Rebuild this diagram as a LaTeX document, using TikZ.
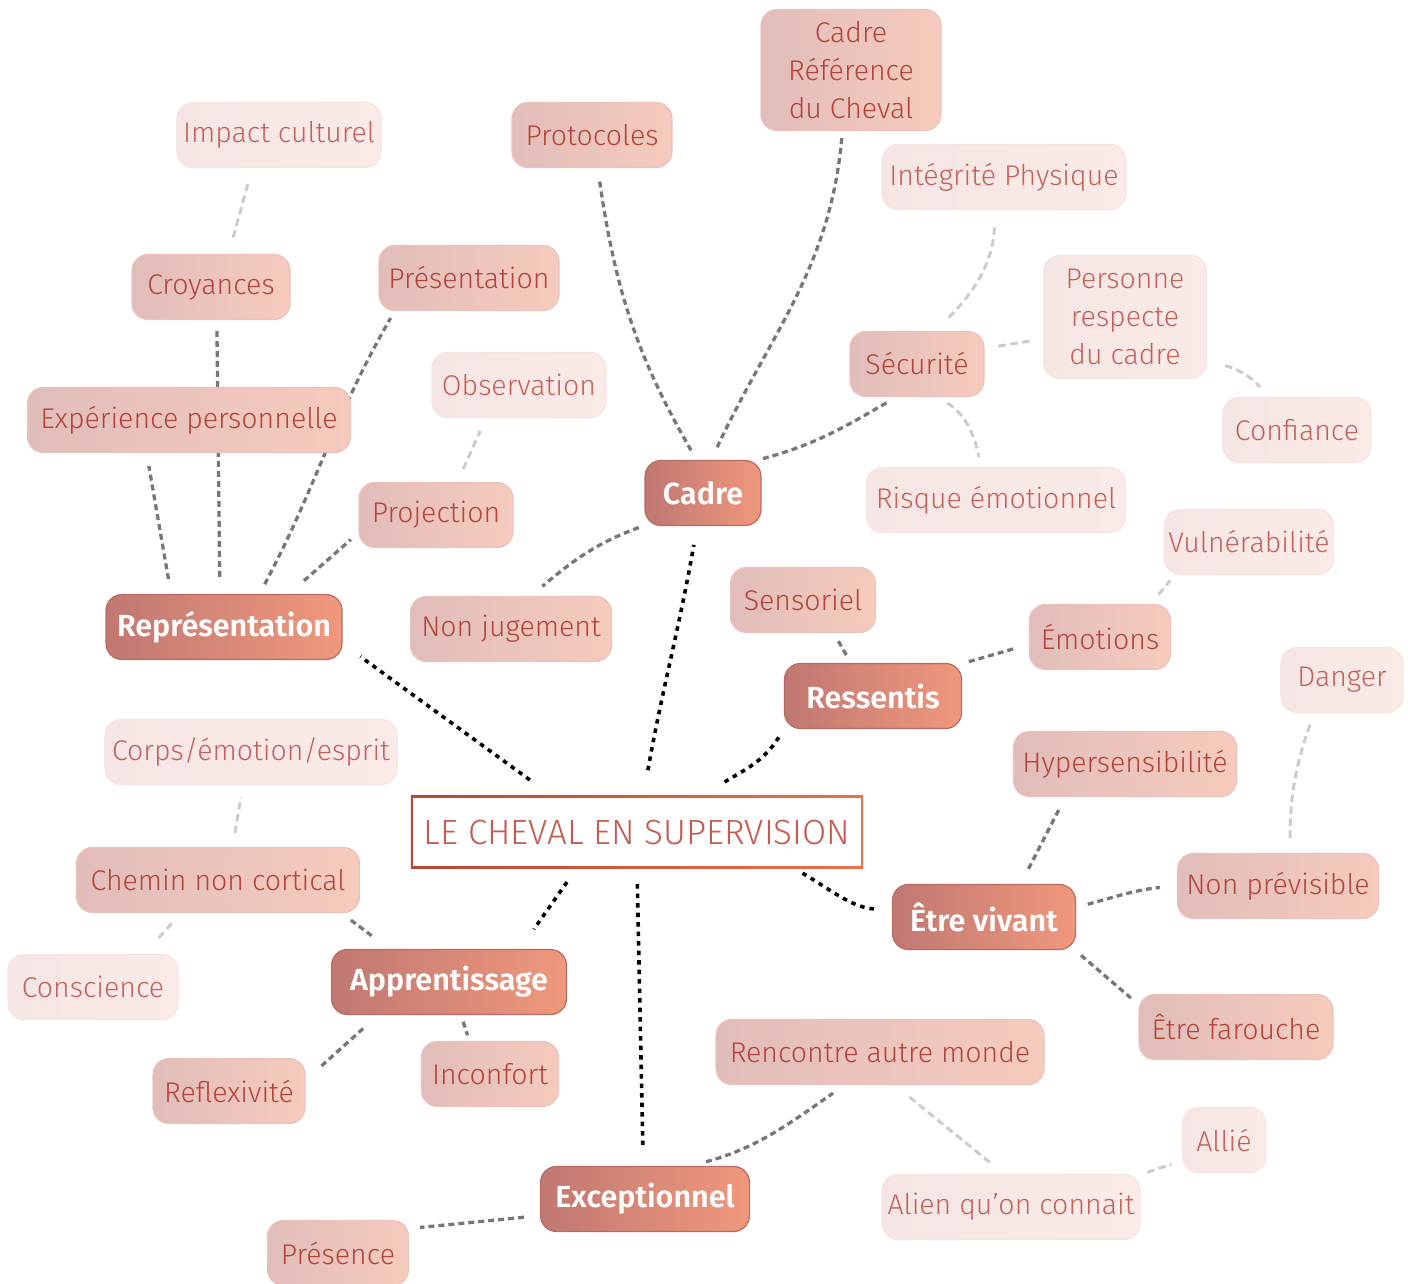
\documentclass[tikz,border=0pt]{standalone}
\usepackage{fontspec}
\setmainfont{Fira Sans}[UprightFont={* Light}, BoldFont={* SemiBold}]
\usetikzlibrary{backgrounds,calc}
\definecolor{oneL}{HTML}{C07872}
\definecolor{oneR}{HTML}{F0987C}
\definecolor{oneD}{HTML}{B86A64}
\definecolor{twoL}{HTML}{E1BDBA}
\definecolor{twoR}{HTML}{F6CBBD}
\definecolor{twoD}{HTML}{EBC3BC}
\definecolor{twoT}{HTML}{B5443A}
\definecolor{thrL}{HTML}{F5E6E5}
\definecolor{thrR}{HTML}{FAEBE8}
\definecolor{thrD}{HTML}{F5E4E2}
\definecolor{thrT}{HTML}{C3625A}
\definecolor{ctrL}{HTML}{B8453A}
\definecolor{ctrR}{HTML}{EF7048}
\definecolor{ctrT}{HTML}{C55A4F}
\definecolor{gryC}{HTML}{777777}
\definecolor{lgtC}{HTML}{CCCCCC}
\begin{document}
\begin{tikzpicture}[x=1pt,y=1pt,
  lvlone/.style={rounded corners=16pt, left color=oneL, right color=oneR, draw=oneD, line width=1.2pt, text=white, font=\fontsize{30.5}{34}\selectfont\bfseries, minimum height=65pt, inner sep=0pt},
  lvltwo/.style={rounded corners=16pt, left color=twoL, right color=twoR, draw=twoD, line width=1.2pt, text=twoT, font=\fontsize{28.5}{38}\selectfont, minimum height=65pt, inner sep=0pt, align=center},
  lvlthr/.style={rounded corners=16pt, left color=thrL, right color=thrR, draw=thrD, line width=1.2pt, text=thrT, font=\fontsize{28.5}{38}\selectfont, minimum height=65pt, inner sep=0pt, align=center},
  blk/.style={draw=black, line width=3.6pt, dash pattern=on 4.5pt off 5pt},
  gry/.style={draw=gryC, line width=3.3pt, dash pattern=on 6pt off 4pt},
  lgt/.style={draw=lgtC, line width=3pt, dash pattern=on 7.5pt off 4.5pt}]
\useasboundingbox (0,0) rectangle (1408,-1283);
% center
\node[font=\fontsize{35}{40}\selectfont, text=ctrT, minimum width=452pt, minimum height=72pt, inner sep=0pt] (ctr) at (637,-832) {LE CHEVAL EN SUPERVISION};
% level 1
\node[lvlone, minimum width=116pt] (cadre) at (703,-493) {Cadre};
\node[lvlone, minimum width=236pt] (repr) at (224,-627) {Représentation};
\node[lvlone, minimum width=177pt] (ress) at (873,-696) {Ressentis};
\node[lvlone, minimum width=183pt] (etre) at (984,-917) {Être vivant};
\node[lvlone, minimum width=235pt] (appr) at (449,-982) {Apprentissage};
\node[lvlone, minimum width=209pt] (exc) at (645,-1199) {Exceptionnel};
% level 2
\node[lvltwo, minimum width=160pt] (prot) at (592,-135) {Protocoles};
\node[lvltwo, minimum width=180pt, minimum height=121pt] (cref) at (851,-70) {Cadre\\Référence\\du Cheval};
\node[lvltwo, minimum width=134pt] (secu) at (917,-364) {Sécurité};
\node[lvltwo, minimum width=201pt] (nonj) at (511,-629) {Non jugement};
\node[lvltwo, minimum width=158pt] (croy) at (211,-287) {Croyances};
\node[lvltwo, minimum width=180pt] (pres) at (469,-278) {Présentation};
\node[lvltwo, minimum width=323pt] (expe) at (189,-420) {Expérience personnelle};
\node[lvltwo, minimum width=154pt] (proj) at (436,-515) {Projection};
\node[lvltwo, minimum width=145pt] (sens) at (803,-600) {Sensoriel};
\node[lvltwo, minimum width=141pt] (emo) at (1100,-637) {Émotions};
\node[lvltwo, minimum width=223pt] (hyper) at (1125,-764) {Hypersensibilité};
\node[lvltwo, minimum width=201pt] (nprev) at (1278,-886) {Non prévisible};
\node[lvltwo, minimum width=194pt] (far) at (1236,-1027) {Être farouche};
\node[lvltwo, minimum width=283pt] (chem) at (218,-880) {Chemin non cortical};
\node[lvltwo, minimum width=152pt] (refl) at (229,-1091) {Reflexivité};
\node[lvltwo, minimum width=137pt] (inco) at (490,-1074) {Inconfort};
\node[lvltwo, minimum width=328pt] (renc) at (880,-1052) {Rencontre autre monde};
\node[lvltwo, minimum width=141pt] (prsc) at (338,-1253) {Présence};
% level 3
\node[lvlthr, minimum width=204pt] (imp) at (279,-135) {Impact culturel};
\node[lvlthr, minimum width=174pt] (obs) at (519,-385) {Observation};
\node[lvlthr, minimum width=244pt] (integ) at (1004,-177) {Intégrité Physique};
\node[lvlthr, minimum width=163pt, minimum height=123pt] (pers) at (1125,-317) {Personne\\respecte\\du cadre};
\node[lvlthr, minimum width=148pt] (conf) at (1297,-430) {Confiance};
\node[lvlthr, minimum width=259pt] (risq) at (996,-500) {Risque émotionnel};
\node[lvlthr, minimum width=169pt] (vuln) at (1249,-542) {Vulnérabilité};
\node[lvlthr, minimum width=122pt] (dang) at (1342,-680) {Danger};
\node[lvlthr, minimum width=292pt] (corps) at (251,-752) {Corps/émotion/esprit};
\node[lvlthr, minimum width=170pt] (consc) at (93,-987) {Conscience};
\node[lvlthr, minimum width=83pt] (allie) at (1224,-1140) {Allié};
\node[lvlthr, minimum width=258pt] (alien) at (1011,-1207) {Alien qu’on connait};
\begin{scope}[on background layer]
\shade[left color=ctrL, right color=ctrR] (ctr.south west) rectangle (ctr.north east);
\fill[white] ($(ctr.south west)+(1.8,1.8)$) rectangle ($(ctr.north east)+(-1.8,-1.8)$);
% center connectors
\draw[blk, shorten <=26pt, shorten >=19pt] (ctr.80) to[out=80,in=-100] (cadre.-100);
\draw[blk, shorten <=27pt, shorten >=22pt] (ctr.157) -- (repr.-8);
\draw[blk, shorten <=24pt, shorten >=8pt] (ctr.28) to[out=35,in=-120] (ress.200);
\draw[blk, shorten <=10pt, shorten >=18pt] (ctr.-13) to[out=-30,in=175] (etre.176);
\draw[blk, shorten <=17pt, shorten >=24pt] (ctr.-149) -- (appr.25);
\draw[blk, shorten <=16pt, shorten >=21pt] (ctr.-90) -- (exc.93);
% level 1 to 2
\draw[gry, shorten <=11pt, shorten >=10pt] (cadre.101) to[out=120,in=-82] (prot.-80);
\draw[gry, shorten <=14pt, shorten >=6pt] (cadre.76) to[out=65,in=-95] (cref.-98);
\draw[gry, shorten <=5pt, shorten >=10pt] (cadre.31) to[out=15,in=-150] (secu.-122);
\draw[gry, shorten <=6pt, shorten >=15pt] (cadre.-151) to[out=-160,in=40] (nonj.59);
\draw[gry, shorten <=17pt, shorten >=8pt] (repr.97) -- (croy.-80);
\draw[gry, shorten <=15pt, shorten >=13pt] (repr.148) -- (expe.-142);
\draw[gry, shorten <=11pt, shorten >=8pt] (repr.43) to[out=62,in=-120] (pres.-156);
\draw[gry, shorten <=20pt, shorten >=10pt] (repr.27) -- (proj.193);
\draw[gry, shorten <=9pt, shorten >=8pt] (ress.124) -- (sens.-47);
\draw[gry, shorten <=7pt, shorten >=13pt] (ress.20) -- (emo.186);
\draw[gry, shorten <=17pt, shorten >=14pt] (etre.42) -- (hyper.-151);
\draw[gry, shorten <=12pt, shorten >=17pt] (etre.6) to[out=15,in=185] (nprev.180);
\draw[gry, shorten <=8pt, shorten >=10pt] (etre.-20) -- (far.167);
\draw[gry, shorten <=22pt, shorten >=10pt] (appr.151) -- (chem.-15);
\draw[gry, shorten <=20pt, shorten >=18pt] (appr.-155) -- (refl.8);
\draw[gry, shorten <=7pt, shorten >=6pt] (appr.-70) -- (inco.122);
\draw[gry, shorten <=16pt, shorten >=14pt] (exc.36) to[out=15,in=-145] (renc.-137);
\draw[gry, shorten <=16pt, shorten >=11pt] (exc.189) -- (prsc.19);
% level 2 to 3
\draw[lgt, shorten <=17pt, shorten >=16pt] (croy.62) -- (imp.-129);
\draw[lgt, shorten <=14pt, shorten >=14pt] (proj.57) -- (obs.-135);
\draw[lgt, shorten <=19pt, shorten >=13pt] (secu.61) to[out=45,in=-90] (integ.-106);
\draw[lgt, shorten <=14pt, shorten >=14pt] (secu.13) -- (pers.-165);
\draw[lgt, shorten <=12pt, shorten >=10pt] (secu.-59) to[out=-30,in=100] (risq.115);
\draw[lgt, shorten <=18pt, shorten >=13pt] (pers.-29) to[out=-10,in=130] (conf.131);
\draw[lgt, shorten <=12pt, shorten >=7pt] (emo.33) -- (vuln.-156);
\draw[lgt, shorten <=15pt, shorten >=10pt] (nprev.70) to[out=90,in=-110] (dang.-130);
\draw[lgt, shorten <=14pt, shorten >=12pt] (chem.66) -- (corps.-104);
\draw[lgt, shorten <=14pt, shorten >=20pt] (chem.-138) -- (consc.33);
\draw[lgt, shorten <=19pt, shorten >=18pt] (renc.-66) -- (alien.102);
\draw[lgt, shorten <=7pt, shorten >=11pt] (alien.14) -- (allie.-154);
\end{scope}
\end{tikzpicture}
\end{document}
